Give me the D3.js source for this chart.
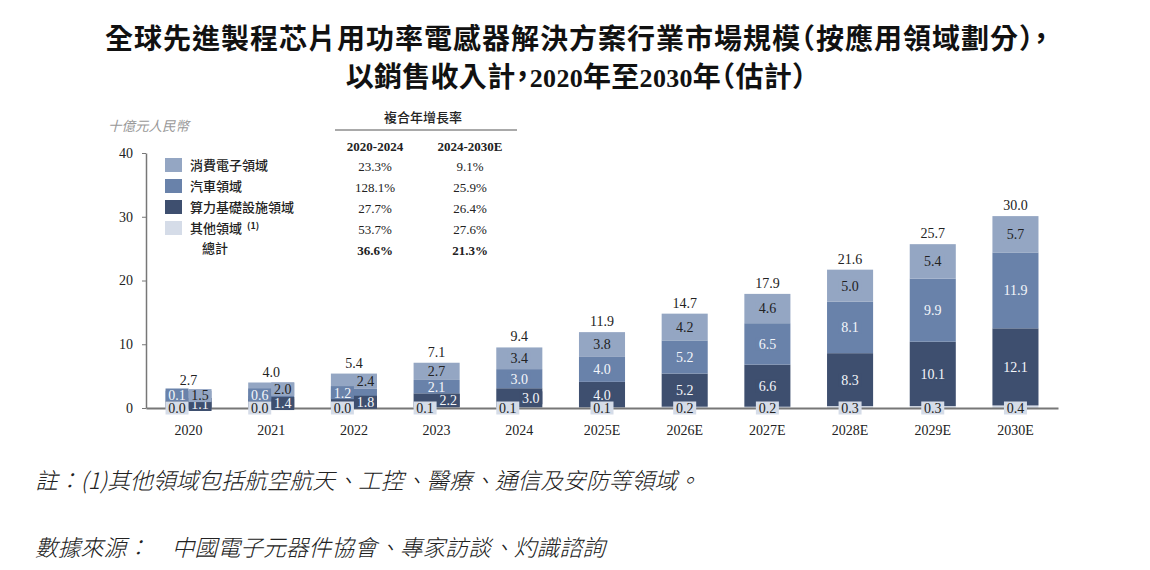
<!DOCTYPE html>
<html>
<head>
<meta charset="utf-8">
<script src="https://cdn.jsdelivr.net/npm/d3@7"></script>
<style>
  body { margin: 0; background: #fff; }
  svg { display: block; }
</style>
</head>
<body>
<div id="chart"></div>
<script>
// ---- data ----
const years = ["2020", "2021", "2022", "2023", "2024", "2025E", "2026E", "2027E", "2028E", "2029E", "2030E"];
const other     = [0.0, 0.0, 0.0, 0.1, 0.1, 0.1, 0.2, 0.2, 0.3, 0.3, 0.4];   // 其他領域
const computing = [1.1, 1.4, 1.8, 2.2, 3.0, 4.0, 5.2, 6.6, 8.3, 10.1, 12.1]; // 算力基礎設施領域
const auto      = [0.1, 0.6, 1.2, 2.1, 3.0, 4.0, 5.2, 6.5, 8.1, 9.9, 11.9];  // 汽車領域
const consumer  = [1.5, 2.0, 2.4, 2.7, 3.4, 3.8, 4.2, 4.6, 5.0, 5.4, 5.7];   // 消費電子領域
const totals    = [2.7, 4.0, 5.4, 7.1, 9.4, 11.9, 14.7, 17.9, 21.6, 25.7, 30.0];

const seriesNames = ["消費電子領域", "汽車領域", "算力基礎設施領域", "其他領域"];
const cagr2024 = ["23.3%", "128.1%", "27.7%", "53.7%", "36.6%"];
const cagr2030 = ["9.1%", "25.9%", "26.4%", "27.6%", "21.3%"];
const yTicks = [0, 10, 20, 30, 40];

const colors = {
  consumer: "#94a6c3",
  auto: "#6982aa",
  computing: "#3e4f6f",
  other: "#d5dce8"
};

const W = 1150, H = 570;
const serif = "'Liberation Serif', 'Times New Roman', serif";
const cjk = "'Noto Sans CJK TC', 'Noto Sans CJK SC', sans-serif";

const svg = d3.select("#chart").append("svg")
  .attr("width", W).attr("height", H);

// ---- title ----
svg.append("text")
  .attr("x", 577).attr("y", 49)
  .attr("text-anchor", "middle")
  .style("font-family", cjk).style("font-weight", 700)
  .style("font-size", "28px").style("letter-spacing", "1px")
  .style("font-feature-settings", "'halt' 1")
  .attr("fill", "#111")
  .text("全球先進製程芯片用功率電感器解決方案行業市場規模（按應用領域劃分），");

const t2 = svg.append("text")
  .attr("x", 576).attr("y", 87)
  .attr("text-anchor", "middle")
  .style("font-family", cjk).style("font-weight", 700)
  .style("font-size", "28px").style("letter-spacing", "0.3px")
  .style("font-feature-settings", "'halt' 1")
  .attr("fill", "#111");
t2.append("tspan").text("以銷售收入計，");
t2.append("tspan").style("font-family", serif).style("font-size", "26px").text("2020");
t2.append("tspan").text("年至");
t2.append("tspan").style("font-family", serif).style("font-size", "26px").text("2030");
t2.append("tspan").text("年（估計）");

// ---- scales ----
const x = d3.scaleBand()
  .domain(years)
  .range([146, 1058])
  .paddingInner(0.443)
  .paddingOuter(0.236);

const y = d3.scaleLinear()
  .domain([0, 40])
  .range([408, 153]);

// unit label
svg.append("text")
  .attr("x", 108).attr("y", 131)
  .style("font-family", cjk).style("font-style", "italic")
  .style("font-size", "13.5px").attr("fill", "#999")
  .text("十億元人民幣");

// ---- y axis ----
const yAxis = svg.append("g")
  .attr("transform", "translate(146,0)")
  .call(d3.axisLeft(y).tickValues(yTicks).tickSize(4).tickPadding(9).tickSizeOuter(0));
yAxis.select(".domain").attr("stroke", "#777").attr("stroke-width", 1.5);
yAxis.selectAll(".tick line").attr("stroke", "#777");
yAxis.selectAll(".tick text")
  .style("font-family", serif).style("font-size", "14px").attr("fill", "#222");

// ---- stacked bars ----
const rows = years.map((yr, i) => ({
  year: yr, other: other[i], computing: computing[i], auto: auto[i], consumer: consumer[i], total: totals[i]
}));
const keys = ["other", "computing", "auto", "consumer"];
const stack = d3.stack().keys(keys)(rows);

svg.append("g").selectAll("g")
  .data(stack)
  .join("g")
  .attr("fill", d => colors[d.key])
  .selectAll("rect")
  .data(d => d)
  .join("rect")
  .attr("x", d => x(d.data.year))
  .attr("y", d => y(d[1]))
  .attr("width", x.bandwidth())
  .attr("height", d => Math.max(0, y(d[0]) - y(d[1])));

// ---- x axis ----
const xAxis = svg.append("g")
  .attr("transform", "translate(0,408)")
  .call(d3.axisBottom(x).tickSize(0).tickPadding(17).tickSizeOuter(0));
xAxis.select(".domain").attr("stroke", "#777").attr("stroke-width", 2);
xAxis.selectAll(".tick text")
  .style("font-family", serif).style("font-size", "14px").attr("fill", "#222");

// ---- value labels (boxed, segment coloured) ----
const bw = x.bandwidth();
const labelLayer = svg.append("g");
const textFill = { consumer: "#222", auto: "#f4f6fa", computing: "#f4f6fa", other: "#222" };

function segHeight(v) { return y(0) - y(v); }

function boxLabel(cx, cy, val, key) {
  const g = labelLayer.append("g").attr("transform", `translate(${cx},${cy})`);
  g.append("rect")
    .attr("x", -11.5).attr("y", -6.5)
    .attr("width", 23).attr("height", 13)
    .attr("fill", colors[key]);
  g.append("text")
    .attr("text-anchor", "middle").attr("dy", "0.35em")
    .style("font-family", serif).style("font-size", "14px")
    .attr("fill", textFill[key])
    .text(val.toFixed(1));
}

// small segments get their label pushed to the left or right half of the bar
const order = ["computing", "auto", "consumer", "other"];
order.forEach(key => {
  const layer = stack.find(s => s.key === key);
  layer.forEach(d => {
    const cx0 = x(d.data.year) + bw / 2;
    const val = d.data[key];
    const smallAuto = segHeight(d.data.auto) < 10;
    let dx = 0, cy = (y(d[0]) + y(d[1])) / 2;
    if (key === "other") {
      dx = segHeight(d.data.computing) < 22 ? -bw / 4 : 0;
      cy = y(0);
    } else if (key === "computing") {
      dx = segHeight(val) < 22 ? bw / 4 : 0;
    } else if (key === "auto") {
      dx = smallAuto ? -bw / 4 : 0;
      if (smallAuto) cy = Math.min(cy, y(0) - 13);
    } else if (key === "consumer") {
      dx = smallAuto ? bw / 4 : 0;
    }
    boxLabel(cx0 + dx, cy, val, key);
  });
});

// totals above bars
svg.append("g").selectAll("text")
  .data(rows)
  .join("text")
  .attr("x", d => x(d.year) + bw / 2)
  .attr("y", d => y(d.other + d.computing + d.auto + d.consumer) - 6)
  .attr("text-anchor", "middle")
  .style("font-family", serif).style("font-size", "14px").attr("fill", "#222")
  .text(d => d.total.toFixed(1));

// ---- legend ----
const legendKeys = ["consumer", "auto", "computing", "other"];
const legend = svg.append("g").attr("transform", "translate(165,158)");
legendKeys.forEach((k, i) => {
  legend.append("rect")
    .attr("x", 0).attr("y", i * 21)
    .attr("width", 17).attr("height", 14)
    .attr("fill", colors[k]);
  const t = legend.append("text")
    .attr("x", 25).attr("y", i * 21 + 12)
    .style("font-family", cjk).style("font-size", "13px").style("font-weight", 500)
    .attr("fill", "#222")
    .text(seriesNames[i]);
  if (k === "other") {
    t.append("tspan").attr("dx", 5).attr("dy", -4)
      .style("font-size", "9px").style("font-weight", 700).text("(1)");
  }
});
legend.append("text")
  .attr("x", 37).attr("y", 4 * 21 + 11)
  .style("font-family", cjk).style("font-size", "13px").style("font-weight", 500)
  .attr("fill", "#222")
  .text("總計");

// ---- CAGR table ----
const colA = 375, colB = 470;
svg.append("text")
  .attr("x", 423).attr("y", 122)
  .attr("text-anchor", "middle")
  .style("font-family", cjk).style("font-size", "13px").style("font-weight", 500)
  .attr("fill", "#222")
  .text("複合年增長率");
svg.append("line")
  .attr("x1", 335).attr("x2", 517).attr("y1", 130).attr("y2", 130)
  .attr("stroke", "#555").attr("stroke-width", 1);

[["2020-2024", colA], ["2024-2030E", colB]].forEach(([txt, cx]) => {
  svg.append("text")
    .attr("x", cx).attr("y", 151)
    .attr("text-anchor", "middle")
    .style("font-family", serif).style("font-size", "13px").style("font-weight", 700)
    .attr("fill", "#222")
    .text(txt);
});

cagr2024.forEach((v, i) => {
  const bold = i === cagr2024.length - 1;
  [[v, colA], [cagr2030[i], colB]].forEach(([txt, cx]) => {
    svg.append("text")
      .attr("x", cx).attr("y", 171 + i * 21)
      .attr("text-anchor", "middle")
      .style("font-family", serif).style("font-size", "13px")
      .style("font-weight", bold ? 700 : 400)
      .attr("fill", "#222")
      .text(txt);
  });
});

// ---- footnotes ----
svg.append("text")
  .attr("x", 35).attr("y", 489)
  .style("font-family", cjk).style("font-style", "italic").style("font-weight", 300)
  .style("font-size", "22.8px").attr("fill", "#222")
  .text("註：(1)其他領域包括航空航天、工控、醫療、通信及安防等領域。");

svg.append("text")
  .attr("x", 35).attr("y", 556)
  .style("font-family", cjk).style("font-style", "italic").style("font-weight", 300)
  .style("font-size", "22.8px").attr("fill", "#222")
  .text("數據來源：　中國電子元器件協會、專家訪談、灼識諮詢");
</script>
</body>
</html>
